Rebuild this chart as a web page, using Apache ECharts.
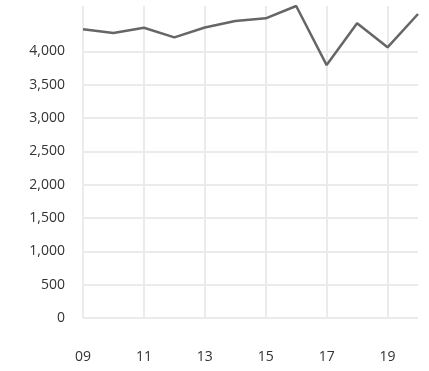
<!DOCTYPE html>
<html>
<head>
<meta charset="utf-8">
<script src="https://cdn.jsdelivr.net/npm/echarts@6/dist/echarts.min.js"></script>
<style>html,body{margin:0;padding:0;background:#fff}#c{width:429px;height:371px}</style>
</head>
<body>
<div id="c"></div>
<script>
const categories = ['09','10','11','12','13','14','15','16','17','18','19','20'];
const values = [4330, 4275, 4354, 4210, 4357, 4455, 4495, 4680, 3794, 4420, 4060, 4560];
const yTicks = [0, 500, 1000, 1500, 2000, 2500, 3000, 3500, 4000];

const chart = echarts.init(document.getElementById('c'), null, {renderer: 'canvas'});
const font = '"Open Sans", "Noto Sans", sans-serif';
chart.setOption({
  animation: false,
  grid: {left: 83, right: 11, top: 6, bottom: 53},
  xAxis: {
    type: 'category',
    data: categories,
    boundaryGap: false,
    axisLine: {show: false},
    axisTick: {show: false},
    axisLabel: {interval: 1, margin: 32, color: '#333', fontSize: 14, fontFamily: font},
    splitLine: {show: true, interval: 1, lineStyle: {color: '#ebebeb', width: 2}}
  },
  yAxis: {
    type: 'value',
    min: 0,
    max: Math.max(...values),
    axisLine: {show: false},
    axisTick: {show: false, customValues: yTicks},
    axisLabel: {customValues: yTicks, margin: 18, color: '#333', fontSize: 14, fontFamily: font,
      formatter: v => v.toLocaleString('en-US')},
    splitLine: {show: true, lineStyle: {color: '#ebebeb', width: 2}}
  },
  series: [{
    type: 'line',
    data: values,
    showSymbol: false,
    lineStyle: {color: '#666', width: 2.5},
    itemStyle: {color: '#666'}
  }]
});
</script>
</body>
</html>
